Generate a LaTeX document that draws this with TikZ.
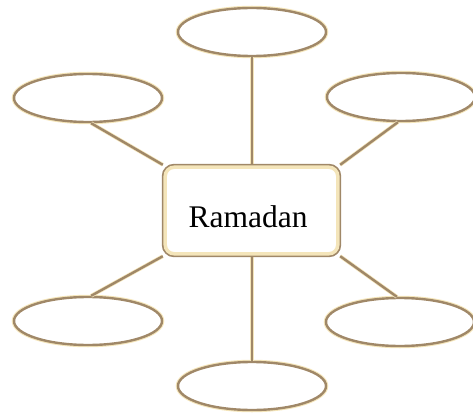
\documentclass[tikz,border=0pt]{standalone}
\usepackage{fontspec}
\setmainfont{Liberation Serif}
\usetikzlibrary{shapes.geometric}
\definecolor{dk}{HTML}{A08868}
\definecolor{cr}{HTML}{F4E5BA}
\tikzset{
  bub/.style={ellipse, minimum width=148pt, minimum height=48pt, inner sep=0pt, draw=dk, line width=2.4pt, fill=white,
    preaction={draw=cr, line width=4.5pt}},
  conn/.style={draw=dk, line width=2.4pt, preaction={draw=cr, line width=3.8pt}},
  hub/.style={minimum width=177pt, minimum height=91pt, inner sep=0pt},
}
\begin{document}
\begin{tikzpicture}[x=1pt,y=-1pt]
\useasboundingbox (0,0) rectangle (473,414);
\node[bub] (t) at (252,32) {};
\node[bub] (ul) at (88,98) {};
\node[bub] (ur) at (401,97) {};
\node[bub] (ll) at (88,321) {};
\node[bub] (lr) at (400,322) {};
\node[bub] (b) at (252,386) {};
\node[hub] (c) at (251.5,210.5) {};
\draw[conn] (t) -- (t |- c.north);
\draw[conn] (b) -- (b |- c.south);
\draw[conn] (ul.-83) -- (c.north west);
\draw[conn] (ur.-97) -- (c.north east);
\draw[conn] (ll.83) -- (c.south west);
\draw[conn] (lr.97) -- (c.south east);
\node[hub, draw=dk, line width=2.4pt, fill=white, rounded corners=11pt] (c2) at (c) {};
\draw[cr, line width=3.5pt, rounded corners=9pt] ([xshift=3.4pt,yshift=-3.4pt]c2.north west) rectangle ([xshift=-3.4pt,yshift=3.4pt]c2.south east);
\node[font=\fontsize{31.5}{36}\selectfont, inner sep=0pt, anchor=base] (lbl) at (248,227) {Ramadan};
\end{tikzpicture}
\end{document}
